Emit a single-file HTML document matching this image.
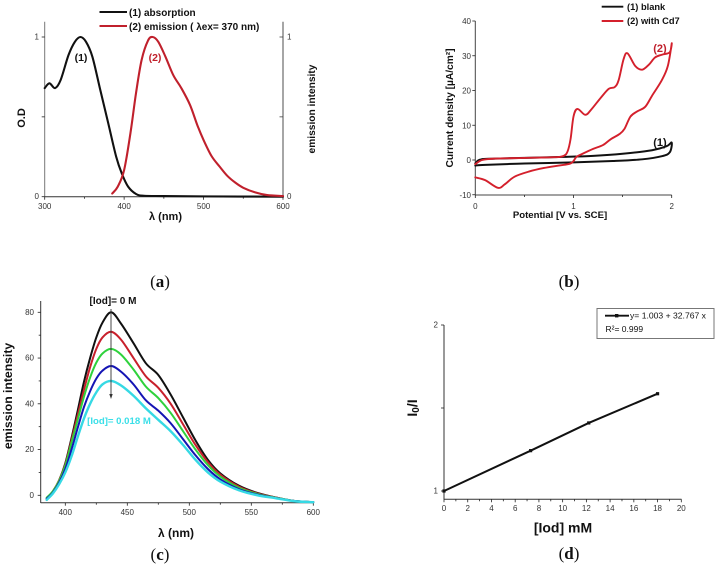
<!DOCTYPE html>
<html>
<head>
<meta charset="utf-8">
<style>
html,body{margin:0;padding:0;background:#fff;}
#fig{display:block;filter:blur(0.3px);}
text{font-family:"Liberation Sans",sans-serif;fill:#111;}
.tick{font-size:8px;fill:#333;}
.b{font-weight:bold;}
.cap{font-family:"Liberation Serif",serif;font-size:17px;text-anchor:middle;}
.cap tspan{font-weight:bold;font-family:"Liberation Serif",serif;}
</style>
</head>
<body>
<svg id="fig" width="717" height="564" viewBox="0 0 717 564" xmlns="http://www.w3.org/2000/svg">
  <g id="panel-a">
    <text x="129" y="16" class="b" font-size="10">(1) absorption</text>
    <text x="129" y="30" class="b" font-size="10">(2) emission ( λex= 370 nm)</text>
    <text x="81" y="61" class="b" font-size="10.5" text-anchor="middle">(1)</text>
    <text x="155" y="61" class="b" font-size="10.5" text-anchor="middle" style="fill:#c0202c">(2)</text>
    <text x="165.5" y="220" class="b" font-size="11" text-anchor="middle">λ (nm)</text>
    <text transform="translate(25,118) rotate(-90)" class="b" font-size="11" text-anchor="middle">O.D</text>
    <text transform="translate(315,109) rotate(-90)" class="b" font-size="10.2" text-anchor="middle">emission intensity</text>
    <text x="160" y="287" class="cap">(<tspan>a</tspan>)</text>
  </g>
  <g id="panel-b">
    <text x="627" y="10" class="b" font-size="9.3">(1) blank</text>
    <text x="627" y="24" class="b" font-size="9.3">(2) with Cd7</text>
    <text x="660" y="52" class="b" font-size="11" text-anchor="middle" style="fill:#c0202c">(2)</text>
    <text x="660" y="146" class="b" font-size="11" text-anchor="middle">(1)</text>
    <text x="560" y="218" class="b" font-size="9.6" text-anchor="middle">Potential [V vs. SCE]</text>
    <text transform="translate(453,108) rotate(-90)" class="b" font-size="10.2" text-anchor="middle">Current density [µA/cm²]</text>
    <text x="569" y="287" class="cap">(<tspan>b</tspan>)</text>
  </g>
  <g id="panel-c">
    <text transform="translate(12,396) rotate(-90)" class="b" font-size="12.2" text-anchor="middle">emission intensity</text>
    <text x="176" y="537" class="b" font-size="12" text-anchor="middle">λ (nm)</text>
    <text x="160" y="560" class="cap">(<tspan>c</tspan>)</text>
  </g>
  <g id="panel-d">
    <text transform="translate(417,408) rotate(-90)" class="b" font-size="14" text-anchor="middle">I<tspan font-size="10" dy="2">0</tspan><tspan dy="-2">/I</tspan></text>
    <text x="563" y="532.5" class="b" font-size="14" text-anchor="middle">[Iod] mM</text>
    <text x="569" y="559" class="cap">(<tspan>d</tspan>)</text>
    <rect x="597" y="308.5" width="117" height="30" fill="#fff" stroke="#777" stroke-width="1"/>
    <line x1="605" y1="315.7" x2="629" y2="315.7" stroke="#111" stroke-width="1.8"/>
    <rect x="615" y="314" width="3.4" height="3.4" fill="#111"/>
    <text x="630" y="318.5" font-size="8.6">y= 1.003 + 32.767 x</text>
    <text x="605.5" y="332" font-size="8.5">R²= 0.999</text>
  </g>
</svg>
<script>
// Panel (a)
const absWl = [300,306,313,320,330,338,345,352,360,370,380,390,397,405,415,425,450,500,600];
const absVal = [0.68,0.71,0.68,0.73,0.887,0.97,1,0.97,0.877,0.668,0.46,0.25,0.146,0.063,0.017,0.006,0.004,0.002,0];
const emWl = [385,392,400,408,415,422,430,436,443,452,462,472,483,492,500,510,520,530,540,550,565,580,600];
const emVal = [0.02,0.063,0.167,0.4,0.65,0.856,0.977,1,0.97,0.877,0.76,0.68,0.574,0.45,0.355,0.255,0.19,0.13,0.088,0.056,0.027,0.01,0.004];
const aXTicks = [300,350,400,450,500,550,600];
const aYTicks = [0,0.5,1];

// Panel (b)
const blankV = [0,0.05,0.2,0.9,1.2,1.5,1.8,1.95,2,1.98,1.9,1.7,1.4,1,0.5,0.1,0];
const blankI = [-1,0.1,0.4,0.9,1.2,1.8,2.8,4,5,2.2,1.1,0.2,-0.3,-0.7,-1,-1.4,-1.6];
const cd7V = [0,0.1,0.23,0.3,0.4,0.55,0.7,0.85,0.96,1,1.03,1.1,1.2,1.3,1.38,1.47,1.52,1.58,1.65,1.73,1.8,1.9,1.96,2,1.98,1.9,1.83,1.77,1.7,1.63,1.55,1.51,1.46,1.42,1.36,1.28,1.18,1.12,1.04,1,0.97,0.94,0.9,0.8,0.5,0.2,0.07,0];
const cd7I = [-5,-5.8,-8,-7,-4.8,-3.3,-2.3,-1.6,-1.1,-0.3,0.9,1.9,3.2,4.3,6,7.5,9,12.5,14,15.3,18.5,23,27,33.5,31,30.3,29.5,27.5,26,27,30.7,29,23,21,20.5,18,14.5,13,14.7,12.5,6,2.5,1.2,0.8,0.6,0.4,0,-1.2];
const bXTicks = [0,0.5,1,1.5,2];
const bXLabels = ['0','','1','','2'];
const bYTicks = [-10,0,10,20,30,40];

// Panel (c)
const cWl = [385,390,395,400,405,410,415,420,425,430,437,445,455,465,475,485,495,505,515,525,540,555,570,585,600];
const cBlack = [-2,1.5,6.5,14,25,37,49.5,60,69,75.5,80,75,66.5,57.7,52.6,44,34,24,15.5,9.6,4.2,1,-1,-2.5,-3];
const cRed = [-1.5,1.8,6.5,13.5,24,35,46,56,64,69,71.5,68,60,52,47,40,31,22,14.5,9,3.8,0.8,-1,-2.5,-3];
const cGreen = [-1,1.8,6.3,13,23,33,43,51.5,58,62,64,61.5,55,47.5,42.5,36,28,20,13.2,8.2,3.3,0.6,-1.1,-2.5,-3];
const cBlue = [-1.5,1.2,5.5,11.5,20,29.5,38.5,45.5,51,54.5,56.5,54,48.5,41.5,37,31.5,24.5,17.5,11.5,7,2.7,0.3,-1.2,-2.5,-3];
const cCyan = [-2,0.8,4.8,10,17,25.5,33.5,40,45,48.5,50,48,43.5,38,33,28,22,15.5,10,6,2.2,0,-1.3,-2.6,-3];
const cXTicks = [400,425,450,475,500,525,550,575,600];
const cXLabels = ['400','','450','','500','','550','','600'];
const cYTicks = [0,10,20,30,40,50,60,70,80];
const cYLabels = ['0','','20','','40','','60','','80'];

// Panel (d)
const dConc = [0,7.3,12.2,18];
const dRatio = [1,1.243,1.41,1.586];
const dXTicks = [0,1,2,3,4,5,6,7,8,9,10,11,12,13,14,15,16,17,18,19,20];
const dYTicks = [1,1.5,2];
const dYLabels = ['1','','2'];

const NS = 'http://www.w3.org/2000/svg';
function mk(tag, parent, attrs, txt){
  const el = document.createElementNS(NS, tag);
  for (const k in attrs) el.setAttribute(k, attrs[k]);
  if (txt !== undefined) el.textContent = txt;
  parent.appendChild(el);
  return el;
}
function linear(d0, d1, r0, r1){ return v => r0 + (v - d0) * (r1 - r0) / (d1 - d0); }
function smooth(xs, ys, sx, sy){
  const p = xs.map((x, i) => [sx(x), sy(ys[i])]);
  let d = 'M' + p[0][0].toFixed(2) + ' ' + p[0][1].toFixed(2);
  for (let i = 0; i < p.length - 1; i++){
    const a = p[Math.max(i - 1, 0)], b = p[i], c = p[i + 1], e = p[Math.min(i + 2, p.length - 1)];
    const c1x = b[0] + (c[0] - a[0]) / 6, c1y = b[1] + (c[1] - a[1]) / 6;
    const c2x = c[0] - (e[0] - b[0]) / 6, c2y = c[1] - (e[1] - b[1]) / 6;
    d += 'C' + c1x.toFixed(2) + ' ' + c1y.toFixed(2) + ' ' + c2x.toFixed(2) + ' ' + c2y.toFixed(2) + ' ' + c[0].toFixed(2) + ' ' + c[1].toFixed(2);
  }
  return d;
}
function series(parent, xs, ys, sx, sy, color, width, name){
  const el = mk('path', parent, {d: smooth(xs, ys, sx, sy), fill: 'none', stroke: color, 'stroke-width': width, 'stroke-linejoin': 'round', 'stroke-linecap': 'round'});
  
  
  return el;
}
function axisLine(parent, x1, y1, x2, y2, color, width, name){
  const el = mk('line', parent, {x1, y1, x2, y2, stroke: color, 'stroke-width': width});
  
  
  return el;
}
function xTicks(parent, ticks, labels, sx, y, isMajor, majLen, minLen, labelY){
  ticks.forEach((t, i) => {
    const maj = isMajor(i);
    const ln = mk('line', parent, {x1: sx(t), x2: sx(t), y1: y, y2: y + (maj ? majLen : minLen), stroke: '#222', 'stroke-width': 0.8});
    
    
    if (labels[i] !== '') {
      const tx = mk('text', parent, {x: sx(t), y: labelY, 'text-anchor': 'middle', class: 'tick'}, labels[i]);
      
      
    }
  });
}
function yTicks(parent, ticks, labels, sy, x, isMajor, majLen, minLen, labelX, lead){
  ticks.forEach((t, i) => {
    const maj = isMajor(i);
    const ln = mk('line', parent, {x1: x - (maj ? majLen : minLen), x2: x, y1: sy(t), y2: sy(t), stroke: '#222', 'stroke-width': 0.8});
    
    
    if (labels[i] !== '') {
      const tx = mk('text', parent, {x: labelX, y: sy(t) + lead, 'text-anchor': 'end', class: 'tick'}, labels[i]);
      
      
    }
  });
}

// Draw (a)
(function(){
  const g = document.getElementById('panel-a');
  const sx = linear(300, 600, 44.7, 283);
  const sy = linear(0, 1, 196.7, 37);
  axisLine(g, 44.7, 21.7, 44.7, 197, '#777', 1, 'y-axis-left');
  axisLine(g, 283, 21.7, 283, 197, '#888', 1.5, 'y-axis-right');
  xTicks(g, aXTicks, aXTicks.map((t, i) => i % 2 === 0 ? String(t) : ''), sx, 196.7, i => i % 2 === 0, 3, 2, 209);
  yTicks(g, aYTicks, aYTicks.map(t => t === 0.5 ? '' : String(t)), sy, 44.7, () => true, 3, 2, 39, 2.5);
  aYTicks.forEach(t => {
    const ln = mk('line', g, {x1: 279.5, x2: 283, y1: sy(t), y2: sy(t), stroke: '#444', 'stroke-width': 0.8});
    
    
    if (t !== 0.5) {
      const tx = mk('text', g, {x: 287, y: sy(t) + 2.5, class: 'tick'}, String(t));
      
      
    }
  });
  axisLine(g, 44.7, 196.7, 283, 196.7, '#333', 1, 'x-axis');
  series(g, absWl, absVal, sx, sy, '#111', 2.1, 'absorption-curve');
  series(g, emWl, emVal, sx, sy, '#c0202c', 2.1, 'emission-curve');
  axisLine(g, 99.5, 12, 127, 12, '#111', 2, 'legend-line-absorption');
  axisLine(g, 99.5, 26, 127, 26, '#c0202c', 2, 'legend-line-emission');
})();

// Draw (b)
(function(){
  const g = document.getElementById('panel-b');
  const sx = linear(0, 2, 475.3, 671.7);
  const sy = linear(0, 40, 160, 21);
  axisLine(g, 475.3, 21, 475.3, 195, '#444', 1, 'y-axis');
  axisLine(g, 475.3, 195, 671.7, 195, '#444', 1, 'x-axis');
  xTicks(g, bXTicks, bXLabels, sx, 195, i => i % 2 === 0, 3, 2, 209);
  yTicks(g, bYTicks, bYTicks.map(String), sy, 475.3, () => true, 3, 2, 471, 3);
  series(g, blankV, blankI, sx, sy, '#111', 2, 'blank-curve');
  series(g, cd7V, cd7I, sx, sy, '#d4202c', 1.9, 'cd7-curve');
  axisLine(g, 601.7, 6.7, 623.3, 6.7, '#111', 1.9, 'legend-line-blank');
  axisLine(g, 601.7, 21, 623.3, 21, '#d4202c', 1.9, 'legend-line-cd7');
})();

// Draw (c)
(function(){
  const g = document.getElementById('panel-c');
  const sx = linear(400, 600, 65.3, 313.3);
  const sy = linear(0, 80, 495.3, 312.3);
  axisLine(g, 40.7, 301, 40.7, 503, '#333', 1, 'y-axis');
  axisLine(g, 40.7, 502.7, 313.5, 502.7, '#333', 1, 'x-axis');
  xTicks(g, cXTicks, cXLabels, sx, 502.7, i => i % 2 === 0, 3, 2, 515);
  yTicks(g, cYTicks, cYLabels, sy, 40.7, i => i % 2 === 0, 3, 2, 34, 2.5);
  series(g, cWl, cBlack, sx, sy, '#111', 2, 'black-curve');
  series(g, cWl, cRed, sx, sy, '#c8202c', 2, 'red-curve');
  series(g, cWl, cGreen, sx, sy, '#2ed23c', 2, 'green-curve');
  series(g, cWl, cBlue, sx, sy, '#1414b4', 2, 'blue-curve');
  series(g, cWl, cCyan, sx, sy, '#36d9e4', 2.4, 'cyan-curve');
  axisLine(g, 111, 309, 111, 397, '#333', 0.9, 'quench-arrow');
  const head = mk('path', g, {d: 'M109.3 394L112.7 394L111 399Z', fill: '#333'});
  
  
  const t1 = mk('text', g, {x: 113, y: 304, 'text-anchor': 'middle', 'font-size': 10, class: 'b'}, '[Iod]= 0 M');
  
  
  const t2 = mk('text', g, {x: 119, y: 424, 'text-anchor': 'middle', 'font-size': 9.6, class: 'b', style: 'fill:#3adfe8'}, '[Iod]= 0.018 M');
  
  
})();

// Draw (d)
(function(){
  const g = document.getElementById('panel-d');
  const sx = linear(0, 20, 444, 681.3);
  const sy = linear(1, 2, 491, 325);
  axisLine(g, 444, 325, 444, 499.5, '#333', 1, 'y-axis');
  axisLine(g, 444, 499.3, 681.5, 499.3, '#333', 1, 'x-axis');
  xTicks(g, dXTicks, dXTicks.map((t, i) => i % 2 === 0 ? String(t) : ''), sx, 499.3, i => i % 2 === 0, 3, 2, 511);
  yTicks(g, dYTicks, dYLabels, sy, 444, () => true, 3, 2, 438, 2.5);
  const line = mk('polyline', g, {points: dConc.map((c, i) => sx(c).toFixed(2) + ',' + sy(dRatio[i]).toFixed(2)).join(' '), fill: 'none', stroke: '#111', 'stroke-width': 2});
  
  
  dConc.forEach((c, i) => {
    const m = mk('rect', g, {x: sx(c) - 1.6, y: sy(dRatio[i]) - 1.6, width: 3.2, height: 3.2, fill: '#111'});
    
    
  });
})();
</script>
</body>
</html>
